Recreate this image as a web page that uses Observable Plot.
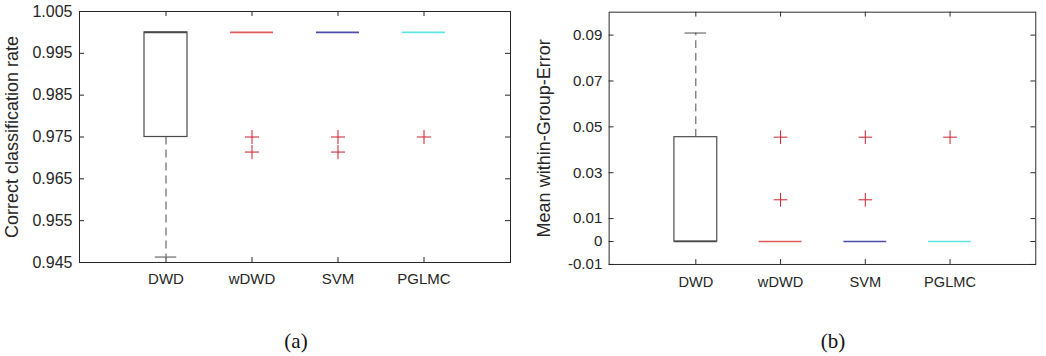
<!DOCTYPE html>
<html><head><meta charset="utf-8">
<script src="https://cdn.jsdelivr.net/npm/d3@7"></script>
<script src="https://cdn.jsdelivr.net/npm/@observablehq/plot@0.6"></script>
<style>
html,body{margin:0;padding:0;background:#fff}
body{width:1046px;height:356px;overflow:hidden;position:relative;font-family:"Liberation Sans",Arial,sans-serif}
#a{position:absolute;left:0;top:0}
#b{position:absolute;left:520px;top:0}
.cap{position:absolute;width:80px;text-align:center;font-family:"Liberation Serif","Times New Roman",serif;font-size:21px;line-height:21px;color:#111;top:331px}
</style></head><body>
<div id="a"></div><div id="b"></div>
<div class="cap" style="left:256px">(a)</div>
<div class="cap" style="left:793px">(b)</div>
<script>
// ---- data ----
const methods = ["DWD", "wDWD", "SVM", "PGLMC"];

// (a) Correct classification rate
const rateLowWhisker = [0.9463, 1, 1, 1];
const rateQ1 = [0.975, 1, 1, 1];
const rateMedian = [1, 1, 1, 1];
const rateQ3 = [1, 1, 1, 1];
const rateHighWhisker = [1, 1, 1, 1];
const rateOutlierMethod = ["wDWD", "wDWD", "SVM", "SVM", "PGLMC"];
const rateOutlierValue = [0.975, 0.9714, 0.975, 0.9714, 0.975];
const rateTicks = [0.945, 0.955, 0.965, 0.975, 0.985, 0.995, 1.005];
const rateTickLabels = ["0.945", "0.955", "0.965", "0.975", "0.985", "0.995", "1.005"];

// (b) Mean within-Group-Error
const errLowWhisker = [0, 0, 0, 0];
const errQ1 = [0, 0, 0, 0];
const errMedian = [0, 0, 0, 0];
const errQ3 = [0.0455, 0, 0, 0];
const errHighWhisker = [0.0909, 0, 0, 0];
const errOutlierMethod = ["wDWD", "wDWD", "SVM", "SVM", "PGLMC"];
const errOutlierValue = [0.0455, 0.0182, 0.0455, 0.0182, 0.0455];
const errTicks = [-0.01, 0, 0.01, 0.03, 0.05, 0.07, 0.09];
const errTickLabels = ["-0.01", "0", "0.01", "0.03", "0.05", "0.07", "0.09"];

// ---- styles ----
const medianColors = ["#4a4a4a", "#e05c5c", "#4e4eaa", "#5ee4e4"];
const boxColor = "#4a4a4a";
const frameColor = "#262626";
const outlierColor = "#c81e28";

function panel({lo, q1, med, q3, hi, oM, oV, ticks, tickLabels, domain, label,
                width, height, ml, mr, mt, mb, labelOffset, xPad, tickFont, labelFont}) {
  const rows = methods.map((m, i) => ({method: m, lo: lo[i], q1: q1[i], med: med[i], q3: q3[i], hi: hi[i], c: medianColors[i]}));
  const outliers = oM.map((m, i) => ({method: m, value: oV[i]}));
  const pw = width - ml - mr, ph = height - mt - mb;
  const bw = pw / 5 * 0.5;
  return Plot.plot({
    width, height, marginLeft: ml, marginRight: mr, marginTop: mt, marginBottom: mb,
    style: {background: "#fff", color: "#262626", fontFamily: "Liberation Sans, Arial, sans-serif", overflow: "visible"},
    x: {type: "band", domain: methods, paddingInner: 0.5, paddingOuter: 0.75},
    y: {domain},
    color: {type: "identity"},
    marks: [
      Plot.frame({stroke: frameColor}),
      // inside tick marks (mirror on all four sides)
      Plot.ruleY(ticks, {y: d => d, insetRight: pw - 5, stroke: frameColor}),
      Plot.ruleY(ticks, {y: d => d, insetLeft: pw - 5, stroke: frameColor}),
      Plot.ruleX(methods, {x: d => d, insetTop: ph - 5, stroke: frameColor}),
      Plot.ruleX(methods, {x: d => d, insetBottom: ph - 5, stroke: frameColor}),
      // whiskers
      Plot.ruleX(rows.filter(d => d.hi > d.q3), {x: "method", y1: "q3", y2: "hi", stroke: boxColor, strokeDasharray: "8,5"}),
      Plot.ruleX(rows.filter(d => d.lo < d.q1), {x: "method", y1: "q1", y2: "lo", stroke: boxColor, strokeDasharray: "8,5"}),
      Plot.tickY(rows.filter(d => d.hi > d.q3), {x: "method", y: "hi", insetLeft: bw / 4, insetRight: bw / 4, stroke: boxColor}),
      Plot.tickY(rows.filter(d => d.lo < d.q1), {x: "method", y: "lo", insetLeft: bw / 4, insetRight: bw / 4, stroke: boxColor}),
      // boxes
      Plot.barY(rows.filter(d => d.q3 > d.q1), {x: "method", y1: "q1", y2: "q3", fill: "none", stroke: boxColor, strokeWidth: 1.2}),
      // medians
      Plot.tickY(rows, {x: "method", y: "med", stroke: "c", strokeWidth: 1.6}),
      // outliers
      Plot.dot(outliers, {x: "method", y: "value", symbol: "plus", r: 4.6, stroke: outlierColor, strokeWidth: 1}),
      // axes
      Plot.axisY(ticks, {tickSize: 0, tickPadding: 7, fontSize: tickFont, tickFormat: (d, i) => tickLabels[i],
        label: null}),
      Plot.axisY(ticks, {tickSize: 0, tickFormat: null, text: null, fontSize: labelFont,
        label, labelAnchor: "center", labelOffset, labelArrow: "none"}),
      Plot.axisX(methods, {tickSize: 0, tickPadding: xPad, fontSize: 15, label: null})
    ]
  });
}

const svgA = panel({lo: rateLowWhisker, q1: rateQ1, med: rateMedian, q3: rateQ3, hi: rateHighWhisker,
  oM: rateOutlierMethod, oV: rateOutlierValue, ticks: rateTicks, tickLabels: rateTickLabels,
  domain: [0.945, 1.005], label: "Correct classification rate",
  width: 520, height: 300, ml: 79, mr: 10, mt: 11, mb: 38, labelOffset: 74, xPad: 11, tickFont: 16, labelFont: 18});
document.getElementById("a").append(svgA);

const svgB = panel({lo: errLowWhisker, q1: errQ1, med: errMedian, q3: errQ3, hi: errHighWhisker,
  oM: errOutlierMethod, oV: errOutlierValue, ticks: errTicks, tickLabels: errTickLabels,
  domain: [-0.01, 0.1], label: "Mean within-Group-Error",
  width: 540, height: 300, ml: 91, mr: 11, mt: 12, mb: 29, labelOffset: 74, xPad: 12.5, tickFont: 15.5, labelFont: 18.5});
document.getElementById("b").append(svgB);
</script>
</body></html>
